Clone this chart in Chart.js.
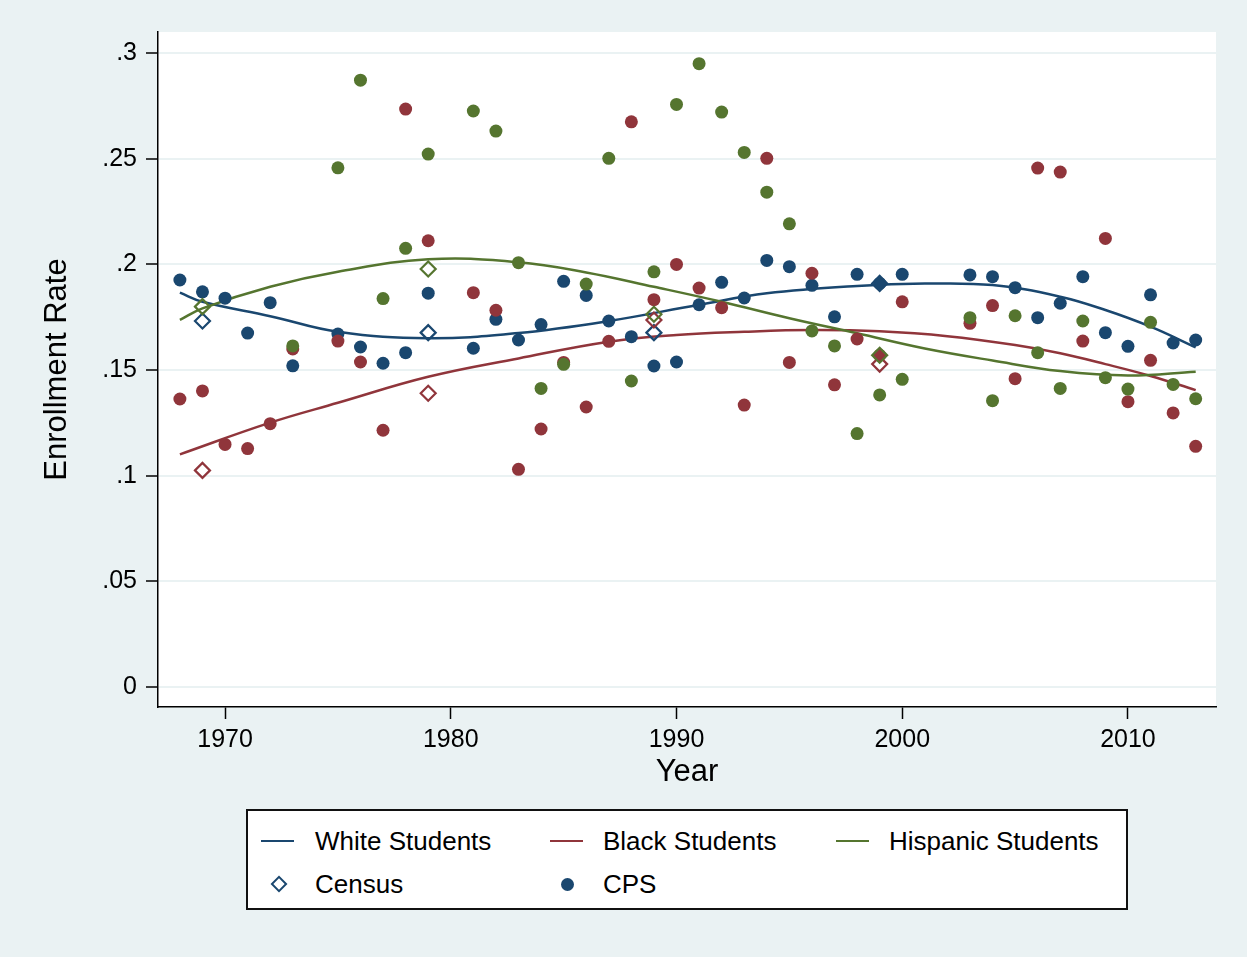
<!DOCTYPE html>
<html lang="en">
  <head>
    <meta charset="UTF-8" />
    <script src="https://cdn.jsdelivr.net/npm/chart.js"></script>
    <title>Enrollment Rate</title>
    <style>
      body { margin: 0; background: #eaf2f3; font-family: "Liberation Sans", Arial, Helvetica, sans-serif; }
      #wrap { position: relative; width: 1247px; height: 957px; }
      #legend { position: absolute; left: 246px; top: 809px; width: 878px; height: 97px; background: white; border: 2px solid #111; }
      .item { position: absolute; font-size: 26px; line-height: 26px; color: #000; white-space: nowrap; }
      .sym { position: absolute; }
    </style>
  </head>
  <body>
    <div id="wrap">
      <canvas id="myChart" width="1247" height="957"></canvas>
      <div id="legend"></div>
    </div>
    <script>
      // data
      const cpsYears = [1968, 1969, 1970, 1971, 1972, 1973, 1975, 1976, 1977, 1978, 1979, 1981, 1982, 1983, 1984, 1985, 1986, 1987, 1988, 1989, 1990,
        1991, 1992, 1993, 1994, 1995, 1996, 1997, 1998, 1999, 2000, 2003, 2004, 2005, 2006, 2007, 2008, 2009, 2010, 2011, 2012, 2013];
      const whiteCps = [.1926, .187, .184, .1675, .1819, .152, .167, .1609, .1532, .1582, .1864, .1603, .174, .1642, .1715, .192, .1853, .1732, .1658, .1519, .1538,
        .1809, .1915, .1841, .2019, .1989, .1901, .1752, .1953, .191, .1953, .195, .1942, .189, .1748, .1816, .1942, .1677, .1612, .1856, .1628, .1642];
      const blackCps = [.1363, .1401, .1148, .1128, .1246, .160, .1637, .1538, .1215, .2735, .2112, .1866, .1783, .103, .1221, .1536, .1325, .1636, .2675, .1833, .200,
        .1888, .1795, .1334, .2502, .1536, .1958, .143, .1647, .157, .1823, .1721, .1805, .1459, .2456, .2437, .1637, .2123, .135, .1546, .1297, .1139];
      const hispCps = [null, null, null, null, null, .1614, .2457, .2872, .1838, .2076, .2522, .2726, .2631, .2008, .1413, .1527, .1907, .2502, .1448, .1965, .2757,
        .295, .2721, .253, .2342, .2192, .1685, .1614, .1199, .1382, .1456, .1748, .1355, .1757, .1582, .1413, .1732, .1464, .141, .1726, .1432, .1364];

      const censusYears = [1969, 1979, 1989, 1999];
      const whiteCensus = [.1732, .1677, .1677, .191];
      const blackCensus = [.1025, .139, .1737, .1528];
      const hispCensus = [.18, .1978, .1764, .157];

      // fitted curves, read at a few years
      const whiteFitYears = [1968, 1969, 1972, 1975, 1979, 1983, 1987, 1991, 1994, 1998, 2001, 2004, 2007, 2009, 2011, 2013];
      const whiteFit = [.1866, .1823, .1755, .1681, .165, .1675, .1732, .1809, .1863, .1898, .1909, .1902, .1847, .1784, .1705, .1607];
      const blackFitYears = [1968, 1972, 1975, 1979, 1983, 1987, 1990, 1993, 1996, 1999, 2002, 2005, 2007, 2009, 2011, 2013];
      const blackFit = [.1101, .1251, .1345, .1468, .1555, .1634, .1666, .1681, .1689, .1683, .166, .1618, .1579, .1528, .1472, .1405];
      const hispFitYears = [1968, 1969, 1972, 1975, 1979, 1983, 1986, 1989, 1992, 1995, 1998, 2001, 2004, 2007, 2010, 2013];
      const hispFit = [.1737, .1792, .1894, .1965, .2024, .201, .1962, .1894, .1823, .1745, .1674, .1602, .1545, .1495, .1474, .1492];

      const yTicks = [0, .05, .1, .15, .2, .25, .3];
      const yTickLabels = ["0", ".05", ".1", ".15", ".2", ".25", ".3"];
      const xTicks = [1970, 1980, 1990, 2000, 2010];

      const NAVY = "#1a476f", MAROON = "#90353b", GREEN = "#55752f";

      function pts(xs, ys) {
        return xs.map((x, i) => ({ x: x, y: ys[i] })).filter(p => p.y !== null);
      }
      function dots(xs, ys, c) {
        return { data: pts(xs, ys), pointStyle: "circle", pointRadius: 6.5, pointBackgroundColor: c, pointBorderColor: c, pointBorderWidth: 0, showLine: false };
      }
      function diamonds(xs, ys, c) {
        return { data: pts(xs, ys), pointStyle: "rectRot", pointRadius: 7.5, pointBackgroundColor: "rgba(0,0,0,0)", pointBorderColor: c, pointBorderWidth: 2.2, showLine: false };
      }
      function fit(xs, ys, c) {
        return { data: pts(xs, ys), showLine: true, borderColor: c, borderWidth: 2.5, pointRadius: 0, tension: 0.4, fill: false };
      }

      const bgPlugin = {
        id: "bg",
        beforeDraw(chart) {
          const ctx = chart.ctx, a = chart.chartArea;
          ctx.save();
          ctx.fillStyle = "#eaf2f3";
          ctx.fillRect(0, 0, chart.width, chart.height);
          ctx.fillStyle = "white";
          ctx.fillRect(a.left, a.top, a.right - a.left, a.bottom - a.top);
          ctx.restore();
        }
      };

      Chart.defaults.font.family = '"Liberation Sans", Arial, Helvetica, sans-serif';
      Chart.defaults.color = "#000";

      const config = {
        type: "scatter",
        data: {
          datasets: [
            diamonds(censusYears, hispCensus, GREEN),
            diamonds(censusYears, blackCensus, MAROON),
            diamonds(censusYears, whiteCensus, NAVY),
            dots(cpsYears, hispCps, GREEN),
            dots(cpsYears, blackCps, MAROON),
            dots(cpsYears, whiteCps, NAVY),
            fit(hispFitYears, hispFit, GREEN),
            fit(blackFitYears, blackFit, MAROON),
            fit(whiteFitYears, whiteFit, NAVY),
          ],
        },
        options: {
          responsive: false,
          animation: false,
          layout: { padding: { top: 32, right: 31, bottom: 160, left: 0 } },
          plugins: { legend: { display: false }, tooltip: { enabled: false } },
          scales: {
            x: {
              type: "linear",
              min: 1967.03,
              max: 2013.9,
              afterBuildTicks: (s) => { s.ticks = xTicks.map(v => ({ value: v })); },
              afterFit: (s) => { s.height = 90; },
              ticks: { callback: (v) => String(v), font: { size: 25 }, padding: 6, maxRotation: 0, autoSkip: false },
              grid: { drawOnChartArea: false, tickLength: 12, tickColor: "#000", tickWidth: 1.5 },
              border: { color: "#000", width: 1.5 },
              title: { display: true, text: "Year", font: { size: 31 }, padding: { top: 0, bottom: 6 } },
            },
            y: {
              min: -0.0095,
              max: 0.31,
              afterBuildTicks: (s) => { s.ticks = yTicks.map(v => ({ value: v })); },
              afterFit: (s) => { s.width = 158; },
              ticks: { callback: (v) => yTickLabels[yTicks.indexOf(v)], font: { size: 25 }, padding: 9, autoSkip: false },
              grid: { color: "#eaf2f3", lineWidth: 2, tickLength: 12, tickColor: "#000", tickWidth: 1.5 },
              border: { color: "#000", width: 1.5 },
              title: { display: true, text: "Enrollment Rate", font: { size: 31 }, padding: { top: 39, bottom: 0 } },
            },
          },
        },
        plugins: [bgPlugin],
      };
      var myChart = new Chart(document.getElementById("myChart"), config);

      // legend box
      const legendItems = [
        { label: "White Students", kind: "line", color: NAVY, sx: 13, tx: 67, row: 0 },
        { label: "Black Students", kind: "line", color: MAROON, sx: 302, tx: 355, row: 0 },
        { label: "Hispanic Students", kind: "line", color: GREEN, sx: 588, tx: 641, row: 0 },
        { label: "Census", kind: "diamond", color: NAVY, sx: 31, tx: 67, row: 1 },
        { label: "CPS", kind: "dot", color: NAVY, sx: 319, tx: 355, row: 1 },
      ];
      const rowY = [30, 73];
      const legend = document.getElementById("legend");
      legendItems.forEach(it => {
        const s = document.createElement("div");
        s.className = "sym";
        if (it.kind === "line") {
          s.style.cssText = `left:${it.sx}px;top:${rowY[it.row] - 1}px;width:33px;height:2px;background:${it.color};`;
        } else if (it.kind === "diamond") {
          s.style.cssText = `left:${it.sx - 6}px;top:${rowY[it.row] - 6}px;width:8px;height:8px;border:2px solid ${it.color};transform:rotate(45deg);`;
        } else {
          s.style.cssText = `left:${it.sx - 6.5}px;top:${rowY[it.row] - 6.5}px;width:13px;height:13px;border-radius:50%;background:${it.color};`;
        }
        legend.appendChild(s);
        const t = document.createElement("div");
        t.className = "item";
        t.textContent = it.label;
        t.style.left = it.tx + "px";
        t.style.top = (rowY[it.row] - 13) + "px";
        legend.appendChild(t);
      });
    </script>
  </body>
</html>
